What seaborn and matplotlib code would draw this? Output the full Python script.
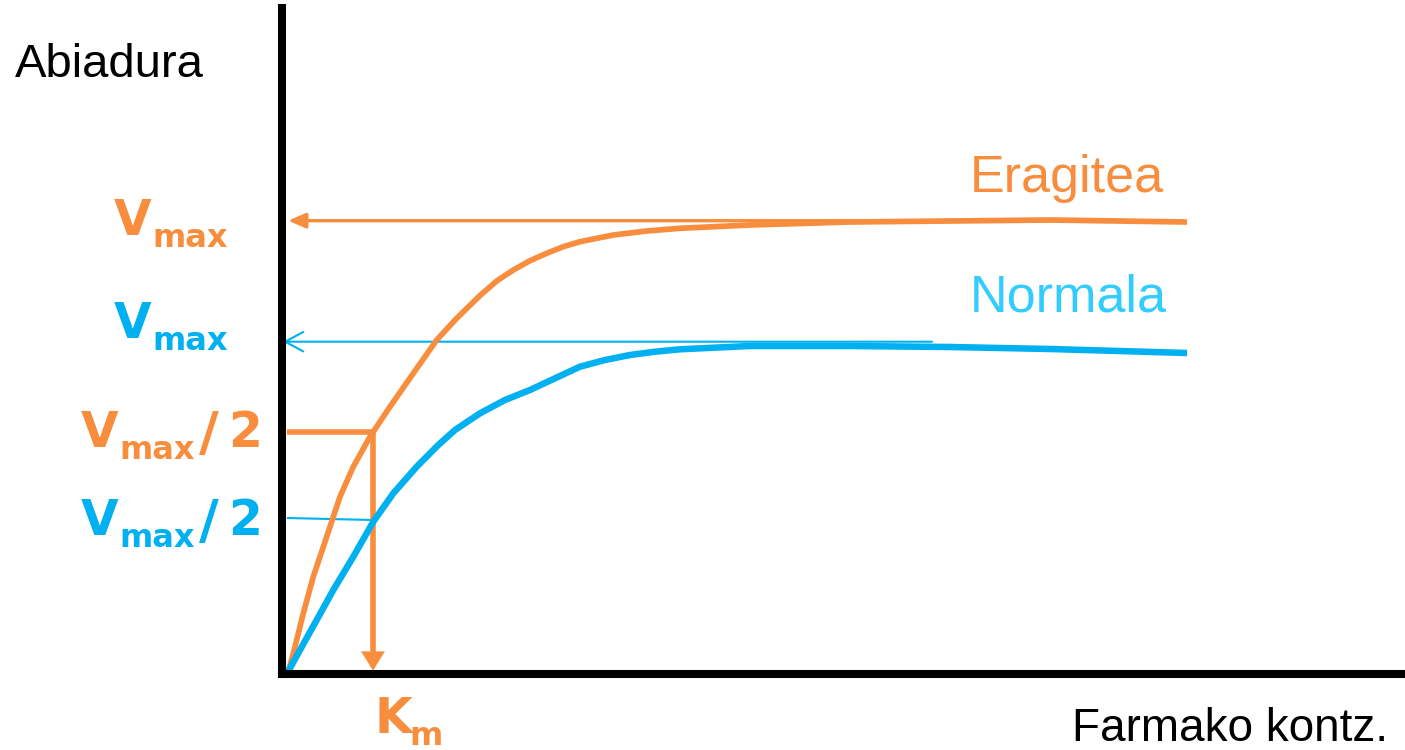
import matplotlib
matplotlib.use("Agg")
import matplotlib.pyplot as plt
import numpy as np
import pandas as pd
import seaborn as sns

# ---------------- data (arbitrary units) ----------------
conc_eragitea = [0.06, 0.13, 0.213, 0.313, 0.447, 0.58, 0.713, 0.88, 1.08, 1.313,
                 1.547, 1.747, 1.98, 2.147, 2.313, 2.48, 2.647, 2.813, 2.98, 3.313,
                 3.647, 3.98, 4.68, 5.68, 6.68, 7.68, 9.05]
abiad_eragitea = [0.0, 0.268, 0.602, 0.968, 1.368, 1.768, 2.068, 2.368, 2.668, 3.002,
                  3.335, 3.552, 3.78, 3.925, 4.035, 4.128, 4.202, 4.268, 4.318, 4.385,
                  4.425, 4.452, 4.485, 4.515, 4.525, 4.535, 4.515]

conc_normala = [0.05, 0.18, 0.347, 0.513, 0.713, 0.913, 1.113, 1.347, 1.563, 1.73,
                1.98, 2.23, 2.48, 2.73, 2.98, 3.23, 3.48, 3.73, 3.98, 4.68, 5.68,
                6.68, 7.68, 9.05]
abiad_normala = [0.0, 0.235, 0.535, 0.835, 1.168, 1.518, 1.802, 2.068, 2.285, 2.435,
                 2.602, 2.735, 2.835, 2.952, 3.068, 3.135, 3.185, 3.218, 3.242, 3.275,
                 3.275, 3.265, 3.245, 3.205]

vmax_eragitea = 4.528
vmax_normala = 3.318
vmax2_eragitea = 2.415
vmax2_normala = 1.545
km = 0.91

x_max, y_max = 11.23, 6.655

ORANGE = "#F88E3D"
BLUE = "#00B0F0"
LIGHTBLUE = "#33CCFF"

# ---------------- figure ----------------
sns.set_theme(style="white")
plt.rcParams["font.family"] = ["Liberation Sans", "DejaVu Sans"]

W, H = 1405, 750
fig = plt.figure(figsize=(W / 100, H / 100), dpi=100)
ax = fig.add_axes([282 / W, 76.5 / H, 1123 / W, 665.5 / H])
ax.set_xlim(0, x_max)
ax.set_ylim(0, y_max)
ax.set_xticks([])
ax.set_yticks([])
ax.set_facecolor("white")
for s in ["top", "right"]:
    ax.spines[s].set_visible(False)
for s in ["left", "bottom"]:
    ax.spines[s].set_visible(True)
    ax.spines[s].set_linewidth(5.8)
    ax.spines[s].set_color("black")
    ax.spines[s].set_zorder(10)

# blue Vmax/2 thin line
ax.plot([0.05, km], [vmax2_normala + 0.01, vmax2_normala - 0.01], color=BLUE, lw=1.5,
        clip_on=False, zorder=2)
# blue Vmax arrow (open head)
ax.annotate("", xy=(0.01, vmax_normala), xytext=(6.50, vmax_normala),
            arrowprops=dict(arrowstyle="->,head_length=1.3,head_width=0.7",
                            mutation_scale=10, color=BLUE, lw=1.5,
                            shrinkA=0, shrinkB=0),
            annotation_clip=False, zorder=2)
# orange Vmax arrow (filled head)
ax.annotate("", xy=(0.06, vmax_eragitea), xytext=(8.83, vmax_eragitea),
            arrowprops=dict(arrowstyle="-|>,head_length=1.05,head_width=0.45",
                            mutation_scale=10, color=ORANGE, lw=2.4,
                            shrinkA=0, shrinkB=0),
            annotation_clip=False, zorder=2)
# orange Vmax/2 horizontal line
ax.plot([0.05, km], [vmax2_eragitea, vmax2_eragitea], color=ORANGE, lw=4.0,
        solid_capstyle="butt", clip_on=False, zorder=3)
# orange Km vertical arrow
ax.annotate("", xy=(km, 0.03), xytext=(km, vmax2_eragitea),
            arrowprops=dict(arrowstyle="-|>,head_length=0.8,head_width=0.5",
                            mutation_scale=10, color=ORANGE, lw=4.0,
                            shrinkA=0, shrinkB=0, joinstyle="miter"),
            annotation_clip=False, zorder=3)

# curves
df_e = pd.DataFrame({"kontz": conc_eragitea, "abiadura": abiad_eragitea})
df_n = pd.DataFrame({"kontz": conc_normala, "abiadura": abiad_normala})
sns.lineplot(data=df_e, x="kontz", y="abiadura", ax=ax, color=ORANGE, lw=4.1,
             sort=False, estimator=None, zorder=4, clip_on=False)
sns.lineplot(data=df_n, x="kontz", y="abiadura", ax=ax, color=BLUE, lw=4.7,
             sort=False, estimator=None, zorder=5, clip_on=False)
ax.set_xlabel("")
ax.set_ylabel("")
for line in ax.lines:
    line.set_solid_capstyle("butt")
    line.set_solid_joinstyle("round")


def ftext(x, y, s, **kw):
    fig.text(x / W, 1 - y / H, s, va="baseline", **kw)


# axis titles
ftext(15, 77, "Abiadura", ha="left", fontsize=34, color="black")
ftext(1072, 741, "Farmako kontz.", ha="left", fontsize=33, color="black")

# series labels
ftext(970, 192, "Eragitea", ha="left", fontsize=37.5, color=ORANGE)
ftext(970, 312, "Normala", ha="left", fontsize=37.5, color=LIGHTBLUE)

# left labels (bold, subscript drawn as smaller text)
BIG, SMALL = 35, 23
bold = dict(family="DejaVu Sans", weight="bold")


def vlabel(x0, base, color, half=False):
    ftext(x0, base, "V", ha="left", fontsize=BIG, color=color, **bold)
    ftext(x0 + 38, base + 12, "max", ha="left", fontsize=SMALL, color=color, **bold)
    if half:
        ftext(x0 + 118, base + 3, "/", ha="left", fontsize=BIG + 4, color=color, **bold)
        ftext(x0 + 147, base, "2", ha="left", fontsize=BIG, color=color, **bold)


vlabel(114, 235, ORANGE)
vlabel(114, 338, BLUE)
vlabel(81, 447, ORANGE, half=True)
vlabel(81, 535, BLUE, half=True)
ftext(375, 733, "K", ha="left", fontsize=BIG, color=ORANGE, **bold)
ftext(409, 745, "m", ha="left", fontsize=SMALL, color=ORANGE, **bold)

fig.savefig("out.png", dpi=100, facecolor="white")
